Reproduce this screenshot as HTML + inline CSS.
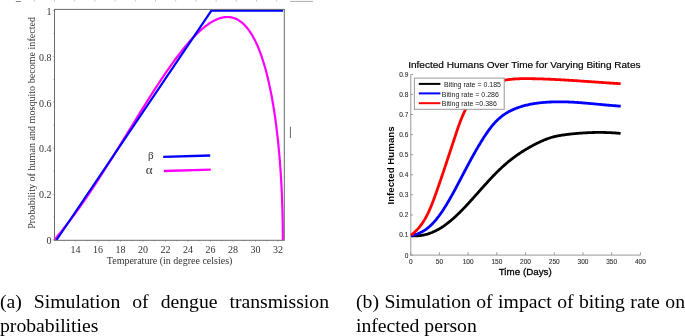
<!DOCTYPE html>
<html><head><meta charset="utf-8">
<style>
html,body{margin:0;padding:0;background:#fff;}
body{width:685px;height:336px;position:relative;overflow:hidden;}
.cap,svg{will-change:transform;}
svg{position:absolute;left:0;top:0;}
.cap{position:absolute;font-family:"Liberation Serif",serif;font-size:19.7px;line-height:24px;text-align:justify;color:#000;}
</style></head><body>
<svg width="685" height="336" viewBox="0 0 685 336">
<!-- stray marks at top -->
<g stroke="#bbb" stroke-width="0.8">
<line x1="34.3" y1="0" x2="34.3" y2="1.6"/>
<line x1="54.5" y1="0" x2="54.5" y2="1.6"/>
<line x1="74.7" y1="0" x2="74.7" y2="1.6"/>
<line x1="94.9" y1="0" x2="94.9" y2="1.6"/>
<line x1="115.1" y1="0" x2="115.1" y2="1.6"/>
<line x1="135.3" y1="0" x2="135.3" y2="1.6"/>
<line x1="155.5" y1="0" x2="155.5" y2="1.6"/>
<line x1="175.7" y1="0" x2="175.7" y2="1.6"/>
<line x1="195.9" y1="0" x2="195.9" y2="1.6"/>
<line x1="216.1" y1="0" x2="216.1" y2="1.6"/>
<line x1="236.3" y1="0" x2="236.3" y2="1.6"/>
<line x1="256.5" y1="0" x2="256.5" y2="1.6"/>
<line x1="276.7" y1="0" x2="276.7" y2="1.6"/>
<line x1="15.8" y1="1.5" x2="21" y2="1.5" stroke="#888" stroke-width="1"/>
<line x1="290" y1="1.4" x2="313" y2="1.4" stroke="#999" stroke-width="0.8"/>
</g>
<!-- LEFT PLOT -->
<g font-family="Liberation Serif" font-size="10" fill="#333">
<text x="75.40" y="252.6" text-anchor="middle">14</text>
<text x="97.91" y="252.6" text-anchor="middle">16</text>
<text x="120.42" y="252.6" text-anchor="middle">18</text>
<text x="142.94" y="252.6" text-anchor="middle">20</text>
<text x="165.45" y="252.6" text-anchor="middle">22</text>
<text x="187.96" y="252.6" text-anchor="middle">24</text>
<text x="210.47" y="252.6" text-anchor="middle">26</text>
<text x="232.98" y="252.6" text-anchor="middle">28</text>
<text x="255.50" y="252.6" text-anchor="middle">30</text>
<text x="278.01" y="252.6" text-anchor="middle">32</text>
<text x="51.6" y="244.20" text-anchor="end">0</text>
<text x="51.6" y="198.30" text-anchor="end">0.2</text>
<text x="51.6" y="152.40" text-anchor="end">0.4</text>
<text x="51.6" y="106.50" text-anchor="end">0.6</text>
<text x="51.6" y="60.60" text-anchor="end">0.8</text>
<text x="51.6" y="14.70" text-anchor="end">1</text>
<text x="169.6" y="264" text-anchor="middle">Temperature (in degree celsies)</text>
<text transform="translate(35.3,122.9) rotate(-90)" text-anchor="middle" font-size="10.1">Probability of human and mosquito become infected</text>
</g>
<g stroke="#bbb" stroke-width="0.8">
<line x1="64.14" y1="240" x2="64.14" y2="241.5"/>
<line x1="75.40" y1="240" x2="75.40" y2="242.2"/>
<line x1="86.66" y1="240" x2="86.66" y2="241.5"/>
<line x1="97.91" y1="240" x2="97.91" y2="242.2"/>
<line x1="109.17" y1="240" x2="109.17" y2="241.5"/>
<line x1="120.42" y1="240" x2="120.42" y2="242.2"/>
<line x1="131.68" y1="240" x2="131.68" y2="241.5"/>
<line x1="142.94" y1="240" x2="142.94" y2="242.2"/>
<line x1="154.19" y1="240" x2="154.19" y2="241.5"/>
<line x1="165.45" y1="240" x2="165.45" y2="242.2"/>
<line x1="176.70" y1="240" x2="176.70" y2="241.5"/>
<line x1="187.96" y1="240" x2="187.96" y2="242.2"/>
<line x1="199.22" y1="240" x2="199.22" y2="241.5"/>
<line x1="210.47" y1="240" x2="210.47" y2="242.2"/>
<line x1="221.73" y1="240" x2="221.73" y2="241.5"/>
<line x1="232.98" y1="240" x2="232.98" y2="242.2"/>
<line x1="244.24" y1="240" x2="244.24" y2="241.5"/>
<line x1="255.50" y1="240" x2="255.50" y2="242.2"/>
<line x1="266.75" y1="240" x2="266.75" y2="241.5"/>
<line x1="278.01" y1="240" x2="278.01" y2="242.2"/>
<line x1="52.3" y1="240.00" x2="54.5" y2="240.00"/>
<line x1="53.0" y1="217.05" x2="54.5" y2="217.05"/>
<line x1="52.3" y1="194.10" x2="54.5" y2="194.10"/>
<line x1="53.0" y1="171.15" x2="54.5" y2="171.15"/>
<line x1="52.3" y1="148.20" x2="54.5" y2="148.20"/>
<line x1="53.0" y1="125.25" x2="54.5" y2="125.25"/>
<line x1="52.3" y1="102.30" x2="54.5" y2="102.30"/>
<line x1="53.0" y1="79.35" x2="54.5" y2="79.35"/>
<line x1="52.3" y1="56.40" x2="54.5" y2="56.40"/>
<line x1="53.0" y1="33.45" x2="54.5" y2="33.45"/>
<line x1="52.3" y1="10.50" x2="54.5" y2="10.50"/>
</g>
<path d="M54.20,240.00 L55.32,238.70 L56.45,237.39 L57.57,236.06 L58.69,234.72 L59.81,233.36 L60.93,231.99 L62.05,230.61 L63.17,229.21 L64.29,227.80 L65.41,226.38 L66.53,224.94 L67.65,223.49 L68.77,222.03 L69.89,220.55 L71.01,219.07 L72.13,217.57 L73.25,216.06 L74.38,214.53 L75.50,213.00 L76.62,211.45 L77.74,209.90 L78.86,208.33 L79.98,206.75 L81.10,205.16 L82.22,203.56 L83.34,201.95 L84.46,200.33 L85.58,198.70 L86.70,197.07 L87.82,195.42 L88.94,193.76 L90.06,192.10 L91.19,190.42 L92.31,188.74 L93.43,187.05 L94.55,185.35 L95.67,183.65 L96.79,181.94 L97.91,180.22 L99.03,178.49 L100.15,176.75 L101.27,175.01 L102.39,173.27 L103.51,171.51 L104.63,169.76 L105.75,167.99 L106.87,166.22 L108.00,164.45 L109.12,162.67 L110.24,160.88 L111.36,159.09 L112.48,157.30 L113.60,155.51 L114.72,153.71 L115.84,151.90 L116.96,150.10 L118.08,148.29 L119.20,146.48 L120.32,144.66 L121.44,142.85 L122.56,141.03 L123.68,139.21 L124.80,137.39 L125.93,135.57 L127.05,133.75 L128.17,131.93 L129.29,130.10 L130.41,128.28 L131.53,126.46 L132.65,124.64 L133.77,122.82 L134.89,121.01 L136.01,119.19 L137.13,117.38 L138.25,115.57 L139.37,113.76 L140.49,111.95 L141.61,110.15 L142.74,108.36 L143.86,106.56 L144.98,104.77 L146.10,102.99 L147.22,101.21 L148.34,99.43 L149.46,97.67 L150.58,95.90 L151.70,94.15 L152.82,92.40 L153.94,90.66 L155.06,88.92 L156.18,87.20 L157.30,85.48 L158.42,83.77 L159.54,82.07 L160.67,80.38 L161.79,78.71 L162.91,77.04 L164.03,75.38 L165.15,73.73 L166.27,72.10 L167.39,70.47 L168.51,68.86 L169.63,67.26 L170.75,65.68 L171.87,64.11 L172.99,62.55 L174.11,61.01 L175.23,59.49 L176.35,57.98 L177.48,56.49 L178.60,55.01 L179.72,53.55 L180.84,52.11 L181.96,50.69 L183.08,49.29 L184.20,47.90 L185.32,46.54 L186.44,45.20 L187.56,43.88 L188.68,42.58 L189.80,41.31 L190.92,40.05 L192.04,38.82 L193.16,37.62 L194.28,36.44 L195.41,35.29 L196.53,34.16 L197.65,33.07 L198.77,32.00 L199.89,30.95 L201.01,29.94 L202.13,28.96 L203.25,28.01 L204.37,27.09 L205.49,26.21 L206.61,25.36 L207.73,24.54 L208.85,23.76 L209.97,23.02 L211.09,22.31 L212.22,21.65 L213.34,21.02 L214.46,20.43 L215.58,19.89 L216.70,19.39 L217.82,18.93 L218.94,18.52 L220.06,18.15 L221.18,17.83 L222.30,17.57 L223.42,17.35 L224.54,17.18 L225.66,17.07 L226.78,17.02 L227.90,17.02 L229.02,17.08 L230.15,17.20 L231.27,17.38 L232.39,17.63 L233.51,17.94 L234.63,18.32 L235.75,18.77 L236.87,19.29 L237.99,19.89 L239.11,20.57 L240.23,21.33 L241.35,22.17 L242.47,23.09 L243.59,24.11 L244.71,25.22 L245.83,26.42 L246.96,27.73 L248.08,29.14 L249.20,30.66 L250.32,32.29 L251.44,34.04 L252.56,35.92 L253.68,37.93 L254.80,40.07 L255.92,42.36 L257.04,44.79 L258.16,47.39 L259.28,50.16 L260.40,53.10 L261.52,56.24 L262.64,59.58 L263.77,63.15 L264.89,66.94 L266.01,70.99 L267.13,75.32 L268.25,79.96 L269.37,84.93 L270.49,90.27 L271.61,96.02 L272.73,102.26 L273.85,109.04 L274.97,116.46 L276.09,124.65 L277.21,133.80 L277.21,133.80 L277.27,134.29 L277.33,134.79 L277.38,135.29 L277.44,135.80 L277.50,136.30 L277.55,136.81 L277.61,137.33 L277.67,137.84 L277.72,138.37 L277.78,138.89 L277.84,139.42 L277.89,139.95 L277.95,140.49 L278.01,141.02 L278.07,141.57 L278.12,142.12 L278.18,142.67 L278.24,143.22 L278.29,143.78 L278.35,144.35 L278.41,144.91 L278.46,145.49 L278.52,146.06 L278.58,146.65 L278.63,147.23 L278.69,147.82 L278.75,148.42 L278.80,149.02 L278.86,149.63 L278.92,150.24 L278.98,150.85 L279.03,151.47 L279.09,152.10 L279.15,152.73 L279.20,153.37 L279.26,154.02 L279.32,154.67 L279.37,155.32 L279.43,155.99 L279.49,156.65 L279.54,157.33 L279.60,158.01 L279.66,158.70 L279.71,159.40 L279.77,160.10 L279.83,160.81 L279.88,161.53 L279.94,162.26 L280.00,162.99 L280.06,163.73 L280.11,164.49 L280.17,165.25 L280.23,166.02 L280.28,166.79 L280.34,167.58 L280.40,168.38 L280.45,169.19 L280.51,170.01 L280.57,170.84 L280.62,171.68 L280.68,172.54 L280.74,173.40 L280.79,174.28 L280.85,175.17 L280.91,176.08 L280.96,177.00 L281.02,177.94 L281.08,178.89 L281.14,179.86 L281.19,180.85 L281.25,181.85 L281.31,182.88 L281.36,183.92 L281.42,184.99 L281.48,186.08 L281.53,187.19 L281.59,188.33 L281.65,189.50 L281.70,190.70 L281.76,191.93 L281.82,193.19 L281.87,194.49 L281.93,195.83 L281.99,197.22 L282.04,198.65 L282.10,200.14 L282.16,201.69 L282.22,203.30 L282.27,205.00 L282.33,206.78 L282.39,208.67 L282.44,210.68 L282.50,212.84 L282.56,215.20 L282.61,217.81 L282.67,220.77 L282.73,224.29 L282.78,228.89 L282.84,240.00" fill="none" stroke="#ff00ff" stroke-width="2.2" stroke-linejoin="round"/>
<path d="M56.5,240 L211.4,10.7 L283.1,10.7" fill="none" stroke="#0000ff" stroke-width="2.2" stroke-linejoin="miter"/>
<rect x="54.5" y="9.4" width="229.8" height="230.9" fill="none" stroke="#6a6a6a" stroke-width="1"/>
<g font-family="Liberation Serif" font-size="11" fill="#333">
<text x="148" y="158.5">β</text>
<text x="145.8" y="174.3" font-size="13">α</text>
</g>
<line x1="163.2" y1="156.9" x2="210.2" y2="155.5" stroke="#0000ff" stroke-width="2.4"/>
<line x1="163.8" y1="171" x2="210.8" y2="169.6" stroke="#ff00ff" stroke-width="2.4"/>
<line x1="290.4" y1="126.7" x2="290.4" y2="138" stroke="#666" stroke-width="1"/>

<!-- RIGHT PLOT -->
<text x="408.2" y="67.8" font-family="Liberation Sans" font-size="9.1" textLength="232.3" lengthAdjust="spacingAndGlyphs" fill="#000" stroke="#000" stroke-width="0.18">Infected Humans Over Time for Varying Biting Rates</text>
<g stroke="#999" stroke-width="1" fill="none">
<line x1="410.8" y1="74.3" x2="410.8" y2="255.6"/>
<line x1="410.3" y1="255.1" x2="640.4" y2="255.1"/>
<line x1="410.70" y1="255.1" x2="410.70" y2="252.3"/>
<line x1="439.41" y1="255.1" x2="439.41" y2="252.3"/>
<line x1="468.12" y1="255.1" x2="468.12" y2="252.3"/>
<line x1="496.84" y1="255.1" x2="496.84" y2="252.3"/>
<line x1="525.55" y1="255.1" x2="525.55" y2="252.3"/>
<line x1="554.26" y1="255.1" x2="554.26" y2="252.3"/>
<line x1="582.98" y1="255.1" x2="582.98" y2="252.3"/>
<line x1="611.69" y1="255.1" x2="611.69" y2="252.3"/>
<line x1="640.40" y1="255.1" x2="640.40" y2="252.3"/>
<line x1="410.7" y1="255.10" x2="413" y2="255.10"/>
<line x1="410.7" y1="235.02" x2="413" y2="235.02"/>
<line x1="410.7" y1="214.94" x2="413" y2="214.94"/>
<line x1="410.7" y1="194.86" x2="413" y2="194.86"/>
<line x1="410.7" y1="174.78" x2="413" y2="174.78"/>
<line x1="410.7" y1="154.70" x2="413" y2="154.70"/>
<line x1="410.7" y1="134.62" x2="413" y2="134.62"/>
<line x1="410.7" y1="114.54" x2="413" y2="114.54"/>
<line x1="410.7" y1="94.46" x2="413" y2="94.46"/>
<line x1="410.7" y1="74.38" x2="413" y2="74.38"/>
</g>
<g font-family="Liberation Sans" font-size="6.5" fill="#333" stroke="#333" stroke-width="0.12">
<text x="410.70" y="263.6" text-anchor="middle">0</text>
<text x="439.41" y="263.6" text-anchor="middle">50</text>
<text x="468.12" y="263.6" text-anchor="middle">100</text>
<text x="496.84" y="263.6" text-anchor="middle">150</text>
<text x="525.55" y="263.6" text-anchor="middle">200</text>
<text x="554.26" y="263.6" text-anchor="middle">250</text>
<text x="582.98" y="263.6" text-anchor="middle">300</text>
<text x="611.69" y="263.6" text-anchor="middle">350</text>
<text x="640.40" y="263.6" text-anchor="middle">400</text>
<text x="408.3" y="257.50" text-anchor="end">0</text>
<text x="408.3" y="237.42" text-anchor="end">0.1</text>
<text x="408.3" y="217.34" text-anchor="end">0.2</text>
<text x="408.3" y="197.26" text-anchor="end">0.3</text>
<text x="408.3" y="177.18" text-anchor="end">0.4</text>
<text x="408.3" y="157.10" text-anchor="end">0.5</text>
<text x="408.3" y="137.02" text-anchor="end">0.6</text>
<text x="408.3" y="116.94" text-anchor="end">0.7</text>
<text x="408.3" y="96.86" text-anchor="end">0.8</text>
<text x="408.3" y="76.78" text-anchor="end">0.9</text>
</g>
<text x="525.25" y="274.6" font-family="Liberation Sans" font-size="9.8" text-anchor="middle" fill="#000" stroke="#000" stroke-width="0.3">Time (Days)</text>
<text transform="translate(394.2,165.45) rotate(-90)" font-family="Liberation Sans" font-size="9.5" font-weight="bold" text-anchor="middle" textLength="78.2" lengthAdjust="spacingAndGlyphs" fill="#000">Infected Humans</text>
<g fill="none" stroke-width="2.8" stroke-linejoin="round" stroke-linecap="butt">
<path d="M410.89,235.71 L411.77,235.78 L412.64,235.83 L413.51,235.87 L414.38,235.88 L415.23,235.88 L416.08,235.87 L416.93,235.83 L417.77,235.79 L418.61,235.72 L419.43,235.64 L420.26,235.55 L421.08,235.44 L421.89,235.32 L422.70,235.18 L423.50,235.03 L424.29,234.86 L425.08,234.68 L425.87,234.48 L426.65,234.28 L427.43,234.06 L428.20,233.82 L428.96,233.58 L429.73,233.32 L430.48,233.04 L431.23,232.76 L431.98,232.47 L432.72,232.16 L433.46,231.84 L434.19,231.51 L434.92,231.17 L435.64,230.82 L436.36,230.46 L437.08,230.09 L437.79,229.71 L438.49,229.32 L439.20,228.92 L439.89,228.51 L440.59,228.09 L441.28,227.66 L441.96,227.22 L442.64,226.78 L443.32,226.33 L443.99,225.86 L444.66,225.40 L445.33,224.92 L445.99,224.44 L446.65,223.95 L447.30,223.45 L447.95,222.94 L448.60,222.43 L449.24,221.92 L449.88,221.40 L450.52,220.87 L451.16,220.34 L451.79,219.80 L452.41,219.25 L453.04,218.71 L453.66,218.15 L454.27,217.60 L454.89,217.04 L455.50,216.47 L456.11,215.90 L456.71,215.33 L457.32,214.76 L457.92,214.18 L458.52,213.60 L459.11,213.01 L459.70,212.43 L460.29,211.84 L460.88,211.25 L461.46,210.66 L462.04,210.07 L462.62,209.48 L463.20,208.88 L463.78,208.28 L464.35,207.69 L464.92,207.09 L465.49,206.49 L466.05,205.88 L466.62,205.28 L467.18,204.68 L467.75,204.07 L468.31,203.47 L468.86,202.86 L469.42,202.25 L469.98,201.64 L470.53,201.04 L471.08,200.43 L471.64,199.82 L472.19,199.20 L472.74,198.59 L473.29,197.98 L473.83,197.37 L474.38,196.76 L474.93,196.14 L475.47,195.53 L476.02,194.92 L476.56,194.30 L477.11,193.69 L477.65,193.08 L478.19,192.47 L478.74,191.85 L479.28,191.24 L479.82,190.63 L480.37,190.02 L480.91,189.40 L481.45,188.79 L481.99,188.18 L482.54,187.57 L483.08,186.96 L483.63,186.36 L484.17,185.75 L484.72,185.14 L485.26,184.53 L485.81,183.93 L486.36,183.32 L486.91,182.72 L487.46,182.12 L488.01,181.52 L488.56,180.92 L489.11,180.32 L489.66,179.72 L490.22,179.13 L490.78,178.53 L491.33,177.94 L491.89,177.35 L492.45,176.76 L493.02,176.17 L493.58,175.58 L494.15,175.00 L494.72,174.42 L495.29,173.84 L495.86,173.26 L496.43,172.68 L497.01,172.11 L497.59,171.53 L498.17,170.96 L498.75,170.40 L499.34,169.83 L499.93,169.27 L500.52,168.71 L501.11,168.15 L501.71,167.59 L502.31,167.04 L502.91,166.49 L503.52,165.94 L504.12,165.40 L504.73,164.85 L505.35,164.32 L505.97,163.78 L506.59,163.25 L507.21,162.72 L507.84,162.19 L508.47,161.67 L509.11,161.15 L509.75,160.63 L510.39,160.12 L511.04,159.60 L511.69,159.10 L512.34,158.59 L513.00,158.10 L513.66,157.60 L514.32,157.11 L514.99,156.62 L515.66,156.13 L516.34,155.65 L517.02,155.17 L517.70,154.70 L518.38,154.23 L519.07,153.76 L519.76,153.30 L520.45,152.84 L521.15,152.38 L521.85,151.93 L522.55,151.48 L523.25,151.04 L523.96,150.60 L524.66,150.16 L525.37,149.73 L526.08,149.30 L526.80,148.88 L527.51,148.46 L528.23,148.04 L528.95,147.63 L529.67,147.22 L530.39,146.81 L531.12,146.41 L531.84,146.02 L532.57,145.63 L533.30,145.24 L534.02,144.85 L534.75,144.48 L535.48,144.10 L536.22,143.73 L536.95,143.36 L537.68,143.00 L538.42,142.64 L539.15,142.29 L539.89,141.94 L540.62,141.60 L541.36,141.26 L542.10,140.93 L542.85,140.61 L543.59,140.29 L544.34,139.98 L545.09,139.67 L545.84,139.38 L546.59,139.09 L547.35,138.80 L548.11,138.53 L548.87,138.26 L549.63,138.00 L550.40,137.75 L551.17,137.51 L551.95,137.28 L552.73,137.06 L553.51,136.85 L554.30,136.65 L555.09,136.46 L555.88,136.28 L556.68,136.10 L557.49,135.94 L558.29,135.79 L559.10,135.64 L559.91,135.50 L560.73,135.37 L561.54,135.24 L562.36,135.12 L563.18,135.00 L564.00,134.89 L564.81,134.78 L565.63,134.67 L566.45,134.56 L567.27,134.46 L568.09,134.36 L568.91,134.26 L569.73,134.17 L570.55,134.07 L571.37,133.98 L572.19,133.89 L573.01,133.81 L573.83,133.72 L574.65,133.64 L575.48,133.56 L576.30,133.49 L577.12,133.41 L577.94,133.34 L578.76,133.27 L579.58,133.21 L580.40,133.14 L581.22,133.08 L582.04,133.03 L582.86,132.97 L583.68,132.92 L584.50,132.87 L585.32,132.82 L586.14,132.78 L586.96,132.73 L587.79,132.69 L588.61,132.66 L589.43,132.62 L590.25,132.59 L591.07,132.56 L591.89,132.54 L592.71,132.51 L593.53,132.49 L594.35,132.48 L595.17,132.46 L595.99,132.45 L596.81,132.44 L597.64,132.43 L598.46,132.43 L599.28,132.43 L600.10,132.43 L600.92,132.43 L601.74,132.44 L602.56,132.45 L603.38,132.47 L604.20,132.48 L605.02,132.50 L605.84,132.52 L606.66,132.55 L607.48,132.58 L608.30,132.61 L609.12,132.64 L609.94,132.68 L610.76,132.72 L611.58,132.76 L612.40,132.80 L613.22,132.85 L614.04,132.90 L614.86,132.96 L615.68,133.02 L616.50,133.08 L617.32,133.14 L618.14,133.21 L618.96,133.28 L619.78,133.35 L620.60,133.43" stroke="#000"/>
<path d="M411.01,235.49 L411.99,235.32 L412.95,235.12 L413.90,234.90 L414.83,234.66 L415.74,234.39 L416.64,234.10 L417.53,233.79 L418.40,233.45 L419.25,233.09 L420.10,232.72 L420.92,232.32 L421.74,231.91 L422.54,231.47 L423.33,231.02 L424.10,230.55 L424.86,230.06 L425.61,229.55 L426.35,229.03 L427.08,228.49 L427.79,227.94 L428.49,227.37 L429.18,226.79 L429.86,226.20 L430.53,225.59 L431.19,224.97 L431.84,224.34 L432.48,223.69 L433.11,223.04 L433.74,222.37 L434.35,221.70 L434.95,221.02 L435.55,220.32 L436.13,219.62 L436.71,218.91 L437.28,218.19 L437.85,217.47 L438.41,216.74 L438.96,216.00 L439.50,215.26 L440.04,214.51 L440.57,213.75 L441.10,212.99 L441.62,212.23 L442.13,211.46 L442.64,210.69 L443.15,209.92 L443.65,209.14 L444.15,208.36 L444.65,207.58 L445.14,206.79 L445.63,206.01 L446.11,205.22 L446.60,204.43 L447.07,203.64 L447.55,202.84 L448.02,202.05 L448.49,201.25 L448.96,200.45 L449.42,199.65 L449.88,198.85 L450.34,198.05 L450.80,197.25 L451.25,196.44 L451.71,195.63 L452.16,194.83 L452.60,194.02 L453.05,193.21 L453.49,192.40 L453.93,191.59 L454.37,190.77 L454.81,189.96 L455.25,189.15 L455.68,188.34 L456.12,187.52 L456.55,186.71 L456.98,185.89 L457.41,185.08 L457.84,184.26 L458.27,183.45 L458.70,182.63 L459.13,181.82 L459.55,181.00 L459.98,180.19 L460.41,179.37 L460.83,178.56 L461.26,177.74 L461.68,176.93 L462.11,176.12 L462.53,175.31 L462.95,174.49 L463.38,173.68 L463.80,172.87 L464.23,172.06 L464.65,171.25 L465.08,170.43 L465.51,169.62 L465.93,168.81 L466.36,168.00 L466.79,167.19 L467.22,166.39 L467.65,165.58 L468.08,164.77 L468.51,163.96 L468.94,163.15 L469.38,162.35 L469.81,161.54 L470.25,160.73 L470.68,159.93 L471.12,159.12 L471.56,158.32 L472.00,157.51 L472.45,156.71 L472.89,155.91 L473.34,155.10 L473.79,154.30 L474.24,153.50 L474.69,152.70 L475.14,151.90 L475.60,151.10 L476.06,150.30 L476.52,149.50 L476.98,148.70 L477.45,147.90 L477.92,147.10 L478.39,146.31 L478.86,145.51 L479.34,144.71 L479.82,143.92 L480.30,143.12 L480.78,142.33 L481.27,141.54 L481.76,140.74 L482.26,139.95 L482.75,139.16 L483.25,138.37 L483.76,137.58 L484.26,136.79 L484.78,136.00 L485.29,135.22 L485.81,134.44 L486.34,133.66 L486.86,132.89 L487.40,132.12 L487.94,131.35 L488.48,130.59 L489.03,129.83 L489.59,129.08 L490.15,128.34 L490.72,127.60 L491.29,126.87 L491.87,126.15 L492.46,125.44 L493.06,124.73 L493.66,124.03 L494.27,123.34 L494.88,122.66 L495.51,121.99 L496.14,121.33 L496.78,120.69 L497.43,120.05 L498.09,119.42 L498.75,118.81 L499.43,118.21 L500.11,117.62 L500.81,117.05 L501.51,116.49 L502.22,115.94 L502.95,115.40 L503.68,114.88 L504.42,114.38 L505.17,113.88 L505.92,113.40 L506.69,112.93 L507.46,112.47 L508.24,112.03 L509.03,111.59 L509.83,111.17 L510.63,110.76 L511.44,110.37 L512.26,109.98 L513.08,109.61 L513.91,109.24 L514.75,108.89 L515.59,108.55 L516.44,108.22 L517.29,107.90 L518.15,107.59 L519.01,107.29 L519.88,107.00 L520.76,106.72 L521.64,106.44 L522.52,106.18 L523.41,105.93 L524.30,105.69 L525.19,105.46 L526.09,105.23 L526.99,105.02 L527.90,104.81 L528.81,104.61 L529.72,104.42 L530.63,104.24 L531.55,104.07 L532.47,103.90 L533.39,103.74 L534.31,103.59 L535.23,103.45 L536.16,103.31 L537.09,103.18 L538.01,103.06 L538.94,102.94 L539.87,102.83 L540.80,102.73 L541.73,102.63 L542.66,102.54 L543.59,102.46 L544.52,102.38 L545.45,102.31 L546.37,102.24 L547.30,102.18 L548.23,102.12 L549.15,102.07 L550.08,102.02 L551.00,101.98 L551.93,101.94 L552.85,101.91 L553.77,101.88 L554.70,101.86 L555.62,101.84 L556.54,101.82 L557.46,101.81 L558.38,101.81 L559.30,101.81 L560.22,101.81 L561.14,101.82 L562.06,101.83 L562.97,101.84 L563.89,101.86 L564.81,101.88 L565.73,101.90 L566.64,101.93 L567.56,101.96 L568.48,102.00 L569.39,102.04 L570.31,102.08 L571.22,102.12 L572.14,102.17 L573.05,102.22 L573.97,102.27 L574.88,102.32 L575.80,102.38 L576.71,102.44 L577.63,102.50 L578.54,102.56 L579.45,102.63 L580.37,102.70 L581.28,102.77 L582.20,102.84 L583.11,102.91 L584.02,102.98 L584.94,103.06 L585.85,103.14 L586.76,103.21 L587.68,103.29 L588.59,103.38 L589.50,103.46 L590.42,103.54 L591.33,103.62 L592.25,103.71 L593.16,103.79 L594.08,103.88 L594.99,103.96 L595.91,104.05 L596.82,104.14 L597.74,104.22 L598.65,104.31 L599.57,104.40 L600.48,104.48 L601.40,104.57 L602.32,104.65 L603.23,104.74 L604.15,104.83 L605.07,104.91 L605.99,104.99 L606.91,105.08 L607.82,105.16 L608.74,105.24 L609.66,105.32 L610.58,105.40 L611.50,105.48 L612.43,105.55 L613.35,105.63 L614.27,105.70 L615.19,105.77 L616.12,105.84 L617.04,105.91 L617.96,105.98 L618.89,106.04 L619.81,106.10 L620.74,106.16" stroke="#0000ff"/>
<path d="M411.05,235.20 L411.88,234.54 L412.70,233.87 L413.50,233.19 L414.27,232.50 L415.03,231.79 L415.77,231.07 L416.49,230.34 L417.20,229.60 L417.89,228.84 L418.56,228.08 L419.21,227.30 L419.85,226.51 L420.47,225.71 L421.08,224.90 L421.68,224.09 L422.26,223.26 L422.83,222.42 L423.38,221.58 L423.92,220.72 L424.45,219.86 L424.96,218.99 L425.47,218.11 L425.96,217.23 L426.44,216.33 L426.91,215.44 L427.38,214.53 L427.83,213.62 L428.27,212.70 L428.71,211.78 L429.13,210.85 L429.55,209.92 L429.96,208.98 L430.36,208.04 L430.76,207.10 L431.15,206.15 L431.54,205.20 L431.91,204.24 L432.29,203.29 L432.66,202.33 L433.02,201.37 L433.38,200.40 L433.74,199.44 L434.10,198.47 L434.45,197.51 L434.80,196.54 L435.15,195.57 L435.49,194.61 L435.84,193.64 L436.18,192.68 L436.53,191.71 L436.87,190.74 L437.21,189.78 L437.55,188.81 L437.89,187.85 L438.23,186.88 L438.56,185.92 L438.90,184.95 L439.23,183.99 L439.57,183.02 L439.90,182.06 L440.23,181.09 L440.56,180.13 L440.90,179.16 L441.22,178.20 L441.55,177.23 L441.88,176.27 L442.21,175.30 L442.54,174.34 L442.86,173.38 L443.19,172.41 L443.51,171.45 L443.84,170.48 L444.16,169.52 L444.48,168.55 L444.81,167.59 L445.13,166.62 L445.45,165.66 L445.77,164.69 L446.09,163.73 L446.41,162.76 L446.73,161.80 L447.05,160.83 L447.37,159.86 L447.69,158.90 L448.01,157.93 L448.33,156.96 L448.65,156.00 L448.97,155.03 L449.29,154.06 L449.61,153.10 L449.93,152.13 L450.25,151.16 L450.57,150.19 L450.89,149.22 L451.21,148.25 L451.53,147.28 L451.85,146.31 L452.17,145.34 L452.49,144.37 L452.81,143.40 L453.13,142.43 L453.45,141.46 L453.77,140.49 L454.09,139.52 L454.41,138.54 L454.73,137.57 L455.06,136.60 L455.38,135.62 L455.70,134.65 L456.03,133.67 L456.35,132.70 L456.68,131.72 L457.01,130.75 L457.34,129.77 L457.67,128.80 L458.01,127.83 L458.35,126.85 L458.69,125.88 L459.04,124.91 L459.39,123.94 L459.74,122.98 L460.11,122.01 L460.47,121.05 L460.84,120.09 L461.22,119.13 L461.61,118.18 L462.00,117.22 L462.40,116.27 L462.80,115.33 L463.22,114.38 L463.64,113.45 L464.07,112.51 L464.51,111.58 L464.96,110.65 L465.42,109.73 L465.89,108.81 L466.37,107.90 L466.87,106.99 L467.37,106.09 L467.88,105.20 L468.41,104.31 L468.95,103.44 L469.49,102.57 L470.06,101.71 L470.63,100.86 L471.22,100.03 L471.81,99.20 L472.43,98.39 L473.05,97.59 L473.69,96.80 L474.35,96.03 L475.01,95.27 L475.69,94.52 L476.39,93.80 L477.10,93.09 L477.83,92.39 L478.57,91.72 L479.33,91.06 L480.10,90.43 L480.89,89.81 L481.69,89.21 L482.51,88.63 L483.35,88.07 L484.20,87.53 L485.06,87.01 L485.93,86.51 L486.82,86.03 L487.71,85.56 L488.62,85.12 L489.54,84.69 L490.47,84.28 L491.40,83.88 L492.35,83.50 L493.30,83.15 L494.26,82.80 L495.22,82.48 L496.19,82.17 L497.17,81.87 L498.15,81.60 L499.14,81.33 L500.12,81.09 L501.12,80.86 L502.11,80.64 L503.11,80.44 L504.11,80.25 L505.12,80.07 L506.13,79.91 L507.14,79.76 L508.15,79.62 L509.17,79.49 L510.19,79.37 L511.21,79.27 L512.23,79.17 L513.25,79.08 L514.28,79.01 L515.31,78.94 L516.34,78.88 L517.37,78.83 L518.40,78.78 L519.43,78.75 L520.47,78.72 L521.50,78.69 L522.54,78.67 L523.57,78.66 L524.61,78.66 L525.64,78.65 L526.68,78.65 L527.71,78.66 L528.75,78.67 L529.78,78.68 L530.82,78.69 L531.85,78.71 L532.88,78.73 L533.91,78.75 L534.95,78.77 L535.98,78.79 L537.00,78.82 L538.03,78.84 L539.06,78.87 L540.09,78.90 L541.11,78.93 L542.14,78.96 L543.16,79.00 L544.19,79.03 L545.21,79.07 L546.23,79.11 L547.26,79.15 L548.28,79.19 L549.30,79.23 L550.32,79.27 L551.34,79.32 L552.36,79.37 L553.38,79.41 L554.40,79.46 L555.42,79.51 L556.43,79.56 L557.45,79.61 L558.47,79.66 L559.49,79.72 L560.50,79.77 L561.52,79.83 L562.54,79.88 L563.55,79.94 L564.57,80.00 L565.58,80.06 L566.60,80.12 L567.61,80.18 L568.63,80.24 L569.64,80.30 L570.66,80.37 L571.67,80.43 L572.68,80.49 L573.70,80.56 L574.71,80.62 L575.73,80.69 L576.74,80.76 L577.76,80.82 L578.77,80.89 L579.78,80.96 L580.80,81.03 L581.81,81.09 L582.83,81.16 L583.84,81.23 L584.86,81.30 L585.87,81.37 L586.89,81.44 L587.91,81.51 L588.92,81.58 L589.94,81.65 L590.95,81.72 L591.97,81.80 L592.99,81.87 L594.01,81.94 L595.02,82.01 L596.04,82.08 L597.06,82.15 L598.08,82.22 L599.10,82.29 L600.12,82.36 L601.14,82.43 L602.16,82.50 L603.19,82.57 L604.21,82.64 L605.23,82.71 L606.25,82.78 L607.28,82.85 L608.30,82.92 L609.33,82.99 L610.36,83.06 L611.38,83.12 L612.41,83.19 L613.44,83.26 L614.47,83.32 L615.50,83.39 L616.53,83.45 L617.56,83.52 L618.59,83.58 L619.63,83.64 L620.66,83.70" stroke="#ff0000"/>
</g>
<rect x="414.4" y="78.1" width="89.8" height="31.2" fill="#fff" stroke="#999" stroke-width="1"/>
<g stroke-width="2">
<line x1="418.8" y1="83.9" x2="440.4" y2="83.9" stroke="#000"/>
<line x1="418.8" y1="93.4" x2="440.4" y2="93.4" stroke="#0000ff"/>
<line x1="418.8" y1="103.2" x2="440.4" y2="103.2" stroke="#ff0000"/>
</g>
<g font-family="Liberation Sans" font-size="7" fill="#222">
<text x="444" y="86.8">Biting rate = 0.185</text>
<text x="441.8" y="96.6">Biting rate = 0.286</text>
<text x="441.8" y="106.1">Biting rate =0.386</text>
</g>
</svg>
<div class="cap" style="left:0px;top:288.8px;width:329px;">(a) Simulation of dengue transmission probabilities</div>
<div class="cap" style="left:355.6px;top:288.8px;width:329px;">(b) Simulation of impact of biting rate on infected person</div>
</body></html>
